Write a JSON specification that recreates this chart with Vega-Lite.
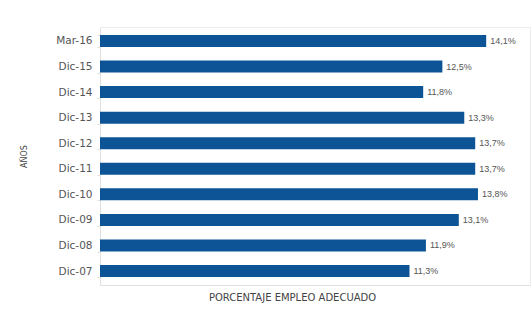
{
  "$schema": "https://vega.github.io/schema/vega-lite/v6.json",
  "autosize": "none",
  "padding": {"left": 100, "top": 27, "right": 2, "bottom": 24},
  "width": 430,
  "height": 258,
  "background": "white",
  "config": {"view": {"stroke": "#ececec", "strokeWidth": 1}, "font": "DejaVu Sans"},
  "data": {"values": [
    {"periodo": "Mar-16", "valor": 14.1, "etiqueta": "14,1%"},
    {"periodo": "Dic-15", "valor": 12.5, "etiqueta": "12,5%"},
    {"periodo": "Dic-14", "valor": 11.8, "etiqueta": "11,8%"},
    {"periodo": "Dic-13", "valor": 13.3, "etiqueta": "13,3%"},
    {"periodo": "Dic-12", "valor": 13.7, "etiqueta": "13,7%"},
    {"periodo": "Dic-11", "valor": 13.7, "etiqueta": "13,7%"},
    {"periodo": "Dic-10", "valor": 13.8, "etiqueta": "13,8%"},
    {"periodo": "Dic-09", "valor": 13.1, "etiqueta": "13,1%"},
    {"periodo": "Dic-08", "valor": 11.9, "etiqueta": "11,9%"},
    {"periodo": "Dic-07", "valor": 11.3, "etiqueta": "11,3%"}
  ]},
  "encoding": {
    "y": {
      "field": "periodo", "type": "nominal", "sort": null,
      "scale": {"paddingInner": 0.53, "paddingOuter": 0.31},
      "axis": {
        "title": "AÑOS", "titleFontSize": 8, "titleFontWeight": "normal", "titleColor": "#444",
        "titlePadding": 27,
        "labelFontSize": 10.5, "labelColor": "#555", "labelPadding": 5,
        "ticks": true, "tickSize": 3, "tickColor": "#e0e0e0", "tickBand": "extent",
        "domain": true, "domainColor": "#e0e0e0"
      }
    },
    "x": {
      "field": "valor", "type": "quantitative",
      "scale": {"domain": [0, 15.7], "nice": false},
      "axis": {
        "title": "PORCENTAJE EMPLEO ADECUADO", "titleFontSize": 10, "titleFontWeight": "normal", "titleColor": "#444",
        "titleX": 192,
        "labels": false, "ticks": false, "grid": false, "domain": true, "domainColor": "#e0e0e0",
        "titlePadding": 7
      }
    }
  },
  "layer": [
    {"mark": {"type": "bar", "color": "#0d5496"}},
    {
      "mark": {"type": "text", "align": "left", "dx": 4, "fontSize": 9, "color": "#555", "font": "Liberation Sans"},
      "encoding": {"text": {"field": "etiqueta"}}
    }
  ]
}
